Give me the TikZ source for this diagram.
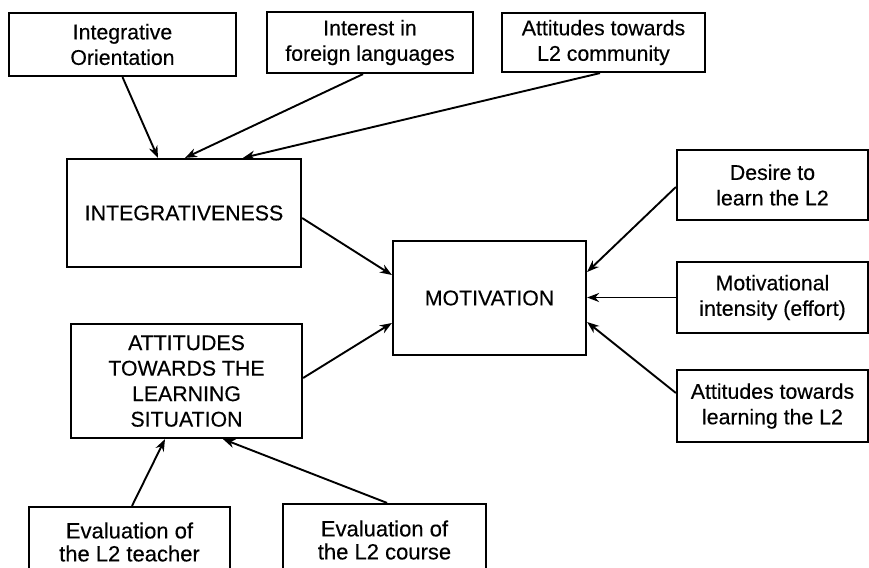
\documentclass[tikz,border=0pt]{standalone}
\usepackage{fontspec}
\setmainfont{Liberation Sans}[FakeBold=0.35]
\usetikzlibrary{arrows.meta}
\begin{document}
\begin{tikzpicture}[x=1pt,y=-1pt,
  box/.style={draw, line width=2.2pt, rectangle, align=center, inner sep=0pt,
    font=\fontsize{21.3}{25.5}\selectfont},
  evalbox/.style={box, font=\fontsize{22}{23}\selectfont},
  link/.style={line width=1.9pt, -{Stealth[length=12pt,width=9pt]}}]
\useasboundingbox (0,0) rectangle (869,567);
\clip (0,0) rectangle (869,567);

% top row of sources
\node[box, minimum width=227pt, minimum height=63pt] (io)  at (122.5,44.5) {Integrative\\Orientation};
\node[box, minimum width=206pt, minimum height=61pt] (ifl) at (370,42.5)   {Interest in\\foreign languages};
\node[box, minimum width=203pt, minimum height=59pt] (alc) at (603.5,42.5) {Attitudes towards\\L2 community};

% central constructs
\node[box, minimum width=234pt, minimum height=108pt] (integ) at (184,213)   {INTEGRATIVENESS};
\node[box, minimum width=193pt, minimum height=114pt] (mot)   at (489.5,298) {MOTIVATION};
\node[box, minimum width=231pt, minimum height=114pt] (atls)  at (186.5,381) {ATTITUDES\\TOWARDS THE\\LEARNING\\SITUATION};

% components of motivation
\node[box, minimum width=191pt, minimum height=70pt] (des) at (772.5,185)   {Desire to\\learn the L2};
\node[box, minimum width=191pt, minimum height=71pt] (mi)  at (772.5,297.5) {Motivational\\intensity (effort)};
\node[box, minimum width=191pt, minimum height=72pt] (atl) at (772.5,406)   {Attitudes towards\\learning the L2};

% evaluations
\node[evalbox, minimum width=201pt, minimum height=70pt] (evt) at (129.5,542) {Evaluation of\\the L2 teacher};
\node[evalbox, minimum width=203pt, minimum height=72pt] (evc) at (384.5,540) {Evaluation of\\the L2 course};

% connectors
\draw[link] (io.south) -- ([xshift=-26pt]integ.north);
\draw[link] ([xshift=-7pt]ifl.south) -- ([xshift=1pt]integ.north);
\draw[link] ([xshift=-3.5pt]alc.south) -- ([xshift=59pt]integ.north);
\draw[link] ([yshift=-5pt]integ.east) -- ([yshift=23pt]mot.west);
\draw[link] ([yshift=3pt]atls.east) -- ([yshift=-25pt]mot.west);
\draw[link] ([yshift=-2pt]des.west) -- ([yshift=26pt]mot.east);
\draw[link] (mi.west) -- (mot.east |- mi.west);
\draw[link] ([yshift=13pt]atl.west) -- ([yshift=-24pt]mot.east);
\draw[link] ([xshift=2.5pt]evt.north) -- ([xshift=-21.5pt]atls.south);
\draw[link] ([xshift=2.5pt]evc.north) -- ([xshift=36.5pt]atls.south);
\end{tikzpicture}
\end{document}
